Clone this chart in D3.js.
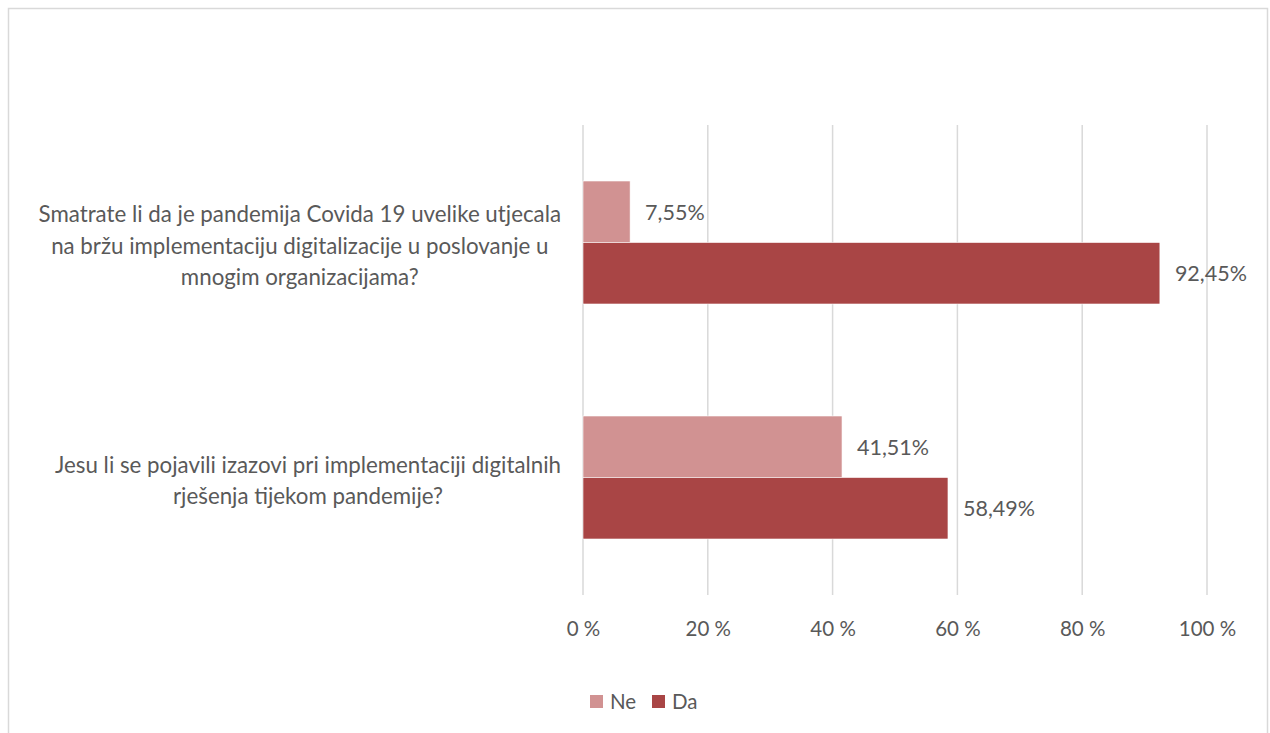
<!DOCTYPE html>
<html><head><meta charset="utf-8">
<script src="https://cdn.jsdelivr.net/npm/d3@7"></script>
<style>body{margin:0;background:#fff}svg{display:block}</style>
</head><body>
<script>
const categories = [
  ["Smatrate li da je pandemija Covida 19 uvelike utjecala","na bržu implementaciju digitalizacije u poslovanje u","mnogim organizacijama?"],
  ["Jesu li se pojavili izazovi pri implementaciji digitalnih","rješenja tijekom pandemije?"]
];
const seriesNames = ["Ne","Da"];
const neValues = [7.55, 41.51];
const daValues = [92.45, 58.49];
const tickValues = [0,20,40,60,80,100];
const colors = ["#d19292","#a94545"];

const W=1270,H=733;
const svg=d3.select("body").append("svg").attr("width",W).attr("height",H);
const font="Lato, 'Open Sans', sans-serif", txt="#595959";
svg.append("rect").attr("x",8.5).attr("y",8.5).attr("width",1259).attr("height",740)
  .attr("fill","#fff").attr("stroke","#d9d9d9").attr("stroke-width",1.5);

const x=d3.scaleLinear().domain([0,100]).range([583,1207]);
const y=d3.scaleBand().domain(d3.range(categories.length)).range([125,595]);
const inner=d3.scaleBand().domain(seriesNames).range([0,123]);
const off=(y.bandwidth()-123)/2;

svg.append("g").selectAll("line").data(tickValues).join("line")
  .attr("x1",d=>x(d)).attr("x2",d=>x(d)).attr("y1",125).attr("y2",595)
  .attr("stroke","#d9d9d9").attr("stroke-width",1.5);

const axis=d3.axisBottom(x).tickValues(tickValues).tickFormat(d=>d+" %").tickSize(0).tickPadding(0);
const ag=svg.append("g").attr("transform","translate(0,636)").call(axis);
ag.select(".domain").remove();
ag.selectAll("text").attr("font-family",font).attr("font-size",20.5).attr("fill",txt).attr("dy","0");

const series=[neValues,daValues];
series.forEach((vals,si)=>{
  svg.append("g").selectAll("rect").data(vals).join("rect")
    .attr("x",x(0)).attr("y",(d,i)=>y(i)+off+inner(seriesNames[si]))
    .attr("width",d=>x(d)-x(0)).attr("height",inner.bandwidth())
    .attr("fill",colors[si]).attr("stroke","#fff").attr("stroke-width",0.6);
  svg.append("g").selectAll("text").data(vals).join("text")
    .attr("x",d=>x(d)+15).attr("y",(d,i)=>y(i)+off+inner(seriesNames[si])+inner.bandwidth()/2+8)
    .attr("font-family",font).attr("font-size",21.5).attr("fill",txt)
    .text(d=>d.toFixed(2).replace(".",",")+"%");
});

// category labels
const lh=31.5;
categories.forEach((lines,i)=>{
  const g=svg.append("g");
  const cy=y(i)+y.bandwidth()/2;
  const t=lines.map((l,k)=>g.append("text").attr("font-family",font).attr("font-size",22.3).attr("fill",txt)
     .attr("text-anchor","middle").attr("y",cy+(k-(lines.length-1)/2)*lh+11).text(l));
  const widths=t.map(n=>n.node().getComputedTextLength());
  const mw=d3.max(widths);
  const right=561;
  t.forEach(n=>n.attr("x",right-mw/2));
});

// legend
const lg=svg.append("g");
const lx=[590,652];
seriesNames.forEach((s,i)=>{
  lg.append("rect").attr("x",lx[i]).attr("y",695).attr("width",13).attr("height",13).attr("fill",colors[i]);
  lg.append("text").attr("x",lx[i]+20).attr("y",709).attr("font-family",font).attr("font-size",20.5).attr("fill",txt).text(s);
});
</script>
</body></html>
